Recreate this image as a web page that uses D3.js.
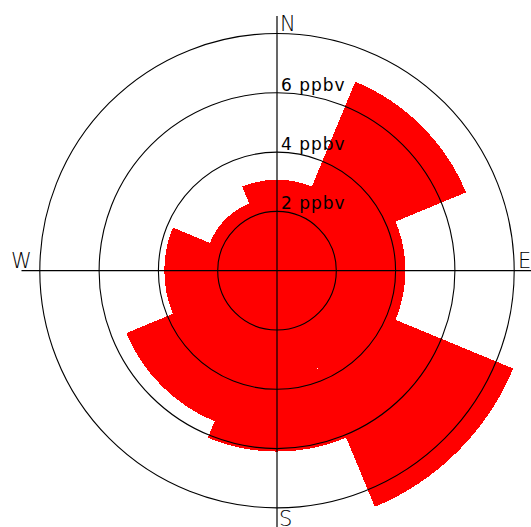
<!DOCTYPE html>
<html>
<head>
<meta charset="utf-8">
<script src="https://cdn.jsdelivr.net/npm/d3@7"></script>
<style>
  html, body { margin: 0; padding: 0; background: #fff; overflow: hidden; }
  svg { display: block; }
  text { font-family: "DejaVu Sans", sans-serif; fill: #000; }
</style>
</head>
<body>
<svg id="rose" width="531" height="527"></svg>
<script>
/** sector directions and mean mixing ratio (ppbv) */
const directions = ["N", "NE", "E", "SE", "S", "SW", "W", "NW"];
const values = [3.07, 6.9, 4.33, 8.62, 6.1, 5.5, 3.8, 2.45];

/** rings and their labels */
const rings = [2, 4, 6, 8];
const ringLabels = ["2 ppbv", "4 ppbv", "6 ppbv", ""];

/** compass labels */
const compass = ["N", "E", "S", "W"];

const svg = d3.select("#rose");
const cx = 277, cy = 270.7;
const g = svg.append("g").attr("transform", `translate(${cx},${cy})`);

/** radial transform */
const r = d3.scaleLinear().domain([0, 8]).range([0, 237.2]);

/** angular transform, sectors centred on each direction */
const step = (2 * Math.PI) / directions.length;
const angle = d3
  .scaleBand()
  .domain(directions)
  .range([-step / 2, 2 * Math.PI - step / 2]);

const arc = d3
  .arc()
  .innerRadius(0)
  .outerRadius((d) => r(d.value))
  .startAngle((d) => angle(d.dir))
  .endAngle((d) => angle(d.dir) + angle.bandwidth());

/** sectors */
g.selectAll("path.sector")
  .data(directions.map((dir, i) => ({ dir, value: values[i] })))
  .join("path")
  .attr("class", "sector")
  .attr("fill", "#ff0000")
  .attr("shape-rendering", "crispEdges")
  .attr("d", arc);

/** rings */
g.selectAll("circle.ring")
  .data(rings)
  .join("circle")
  .attr("class", "ring")
  .attr("r", (d) => r(d))
  .attr("fill", "none")
  .attr("stroke", "#000")
  .attr("stroke-width", 1.1);

/** cross hairs */
g.append("line")
  .attr("x1", 0).attr("x2", 0)
  .attr("y1", 16 - cy).attr("y2", 527 - cy)
  .attr("stroke", "#000").attr("stroke-width", 1.2);
g.append("line")
  .attr("x1", 21.5 - cx).attr("x2", 531 - cx)
  .attr("y1", 0).attr("y2", 0)
  .attr("stroke", "#000").attr("stroke-width", 1.2);

/** ring labels */
g.selectAll("text.ringlabel")
  .data(rings.map((d, i) => ({ d, label: ringLabels[i] })))
  .join("text")
  .attr("class", "ringlabel")
  .attr("x", 4)
  .attr("y", (d) => -r(d.d) - 2)
  .attr("font-size", 17)
  .attr("letter-spacing", 1)
  .text((d) => d.label);

/** compass labels */
const compassPos = {
  N: { x: 3, y: 16 - cy + 15, anchor: "start" },
  E: { x: 518 - cx, y: -3, anchor: "start" },
  S: { x: 2, y: 526 - cy, anchor: "start" },
  W: { x: 11 - cx, y: -3, anchor: "start" },
};
g.selectAll("text.compass")
  .data(compass)
  .join("text")
  .attr("class", "compass")
  .attr("x", (d) => compassPos[d].x)
  .attr("y", (d) => compassPos[d].y)
  .attr("text-anchor", (d) => compassPos[d].anchor)
  .attr("font-size", 21)
  .attr("font-weight", 300)
  .text((d) => d);
</script>
</body>
</html>
